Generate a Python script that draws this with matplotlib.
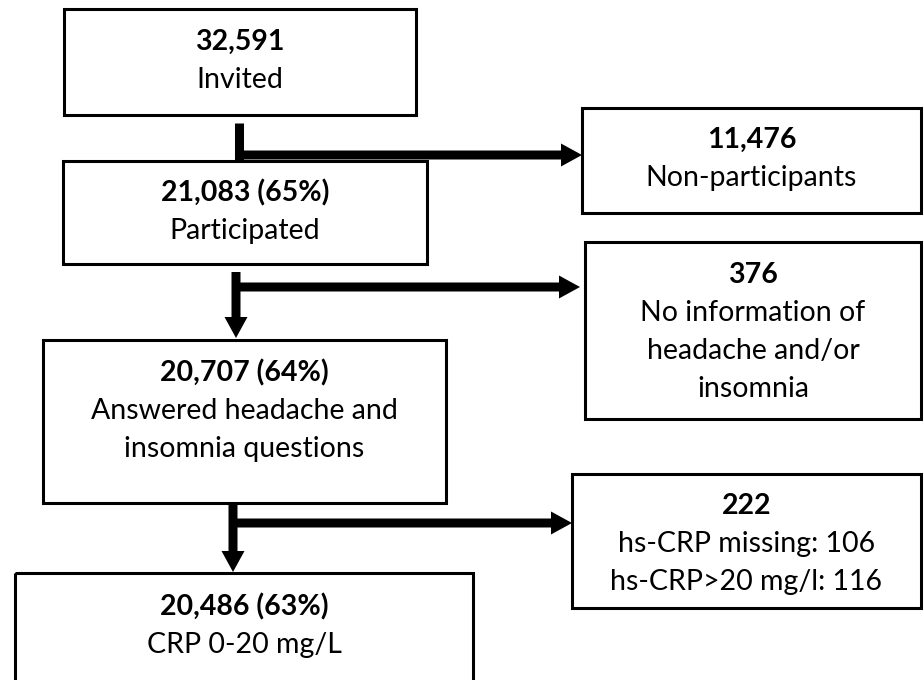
import matplotlib
matplotlib.use('Agg')
import matplotlib.pyplot as plt
from matplotlib.patches import Rectangle, FancyArrow

plt.rcParams['font.family'] = ['Lato', 'DejaVu Sans']

# box contents: bold count line, then plain description lines
counts = ["32,591", "21,083 (65%)", "20,707 (64%)", "20,486 (63%)",
          "11,476", "376", "222"]
descriptions = [
    ["Invited"],
    ["Participated"],
    ["Answered headache and", "insomnia questions"],
    ["CRP 0-20 mg/L"],
    ["Non-participants"],
    ["No information of", "headache and/or", "insomnia"],
    ["hs-CRP missing: 106", "hs-CRP>20 mg/l: 116"],
]

# box geometry in pixels: left, top, right, bottom, first text line y
boxes = [
    (64, 9, 416, 115, 42),
    (63, 161, 427, 264, 193),
    (43, 340, 446, 503, 373),
    (15, 573, 473, 700, 607),
    (582, 108, 921, 213, 140),
    (585, 242, 921, 419, 275),
    (572, 474, 921, 608, 506),
]
line_gap = 38

fig = plt.figure(figsize=(9.24, 6.8), dpi=100)
ax = fig.add_axes([0, 0, 1, 1])
ax.set_xlim(0, 924)
ax.set_ylim(680, 0)
ax.axis('off')

for (l, t, r, b, ty), cnt, desc in zip(boxes, counts, descriptions):
    ax.add_patch(Rectangle((l, t), r - l, b - t, fill=False, ec='black', lw=2.2))
    cx = (l + r) / 2
    ax.text(cx, ty, cnt, ha='center', va='center', fontsize=20.5, fontweight='bold')
    for i, s in enumerate(desc):
        ax.text(cx, ty + (i + 1) * line_gap, s, ha='center', va='center', fontsize=20.5)

shaft = 9
hw, hl = 23, 21

# connector 1: straight line down into next box, branch arrow right
ax.plot([239, 239], [123, 160], color='black', lw=6.5, solid_capstyle='butt')
ax.add_patch(FancyArrow(235, 155, 582 - 235, 0, width=shaft, head_width=hw,
                        head_length=hl, length_includes_head=True, color='black', lw=0))

# connectors 2 and 3: arrow down and arrow right
for x, y0, y1, yh, xt in [(236, 272, 338, 287, 580), (233, 503, 572, 523, 572)]:
    ax.add_patch(FancyArrow(x, y0, 0, y1 - y0, width=shaft, head_width=hw,
                            head_length=hl, length_includes_head=True, color='black', lw=0))
    ax.add_patch(FancyArrow(x, yh, xt - x, 0, width=shaft, head_width=hw,
                            head_length=hl, length_includes_head=True, color='black', lw=0))

plt.savefig('out.png', dpi=100)
